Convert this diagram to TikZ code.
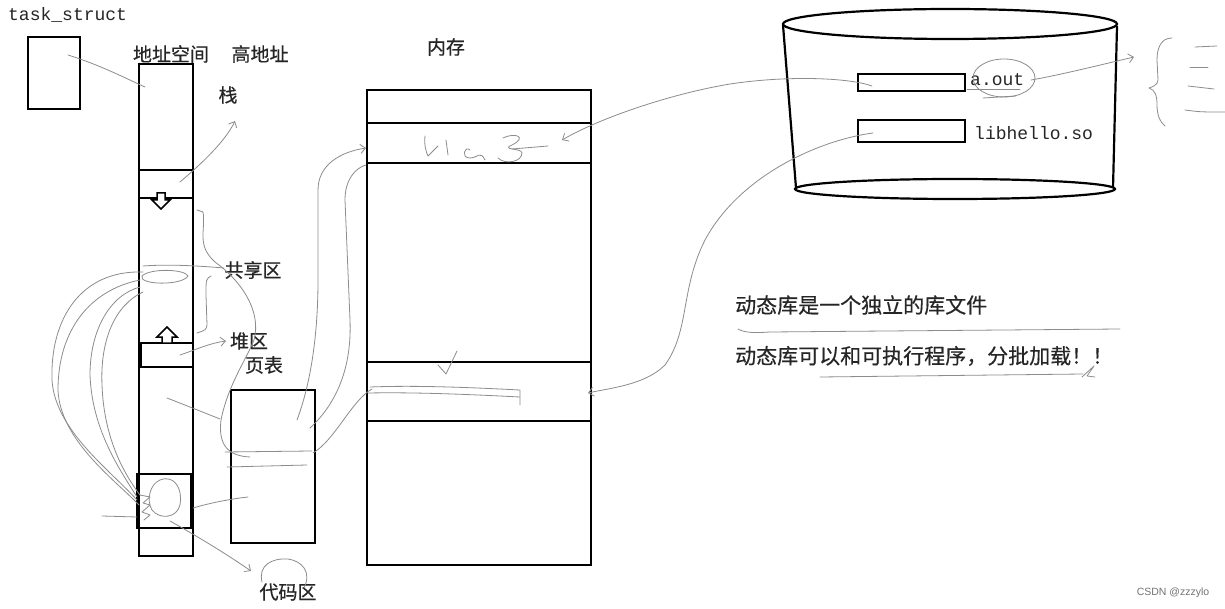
\documentclass[tikz,border=0pt]{standalone}
\usepackage{fontspec}
\newfontfamily\cjk[FakeBold=0.4]{Noto Sans CJK SC}
\newfontfamily\monof{Liberation Mono}
\usetikzlibrary{arrows.meta}
\tikzset{
 box/.style={draw=black, line width=2.2pt, inner sep=0pt, fill=none},
 hand/.style={draw=black!45, line width=0.8pt, line cap=round, line join=round},
 harrow/.style={hand, -{Straight Barb[length=5pt,width=9pt]}},
 zh/.style={font=\cjk\fontsize{19}{22}\selectfont, inner sep=0pt, text=black!85},
 zhb/.style={font=\cjk\fontsize{21}{24}\selectfont, inner sep=0pt, text=black!85},
 code/.style={font=\monof\fontsize{18}{20}\selectfont, inner sep=0pt, text=black!85},
 hollow/.style={draw=black, line width=1.5pt, fill=white, line join=miter},
}
\begin{document}
\begin{tikzpicture}[x=1pt,y=-1pt]
\path[use as bounding box, fill=white] (0,0) rectangle (1225,609);

% ---------- boxes ----------
\node[box, minimum width=52, minimum height=72] (task) at (54,73) {};
\node[box, minimum width=54, minimum height=492] (col) at (166,310) {};
\node[box, minimum width=54, minimum height=28] (stack) at (166,184) {};
\node[box, minimum width=54, minimum height=24] (heap) at (166,355) {};
\node[box, minimum width=54, minimum height=54] (codebox) at (164,501) {};
\node[box, minimum width=84, minimum height=153] (pt) at (273,466.5) {};
\node[box, minimum width=224, minimum height=475] (mem) at (479,327.5) {};
\node[box, minimum width=224, minimum height=40] (libc) at (479,143) {};
\node[box, minimum width=224, minimum height=59] (band) at (479,391.5) {};
\node[box, minimum width=107, minimum height=17] (aout) at (911.5,82.5) {};
\node[box, minimum width=107, minimum height=22] (lib) at (911.5,131) {};
\draw[black, line width=3.2pt] (140,343) -- (140,367);

% ---------- disk cylinder ----------
\draw[box] (950,24) ellipse [x radius=167, y radius=15];
\draw[box] (783,25) -- (796,188);
\draw[box] (1117,26) -- (1113,188);
\draw[box] (955,189) ellipse [x radius=160, y radius=10];

% ---------- hollow arrows ----------
\draw[hollow] (157,193) -- (165,193) -- (165,200) -- (170,200) -- (161,209) -- (152,200) -- (157,200) -- cycle;
\draw[hollow] (167,327) -- (177,337) -- (172,337) -- (172,343) -- (162,343) -- (162,337) -- (157,337) -- cycle;

% ---------- texts ----------
\node[code, anchor=west] (tasklbl) at (8,15) {task\_struct};
\node[zh] (addr) at (171,54) {地址空间};
\node[zh] (high) at (260,54) {高地址};
\node[zh] (zhan) at (228,95) {栈};
\node[zh] (share) at (253,270) {共享区};
\node[zh] (heaplbl) at (249,341) {堆区};
\node[zh] (ptlbl) at (264,365) {页表};
\node[zh] (codelbl) at (288,592) {代码区};
\node[zh] (memlbl) at (446,47) {内存};
\node[code, anchor=west] (aoutlbl) at (970,80) {a.out};
\node[code, anchor=west] (liblbl) at (974,133) {libhello.so};
\node[zhb, anchor=west] (line1) at (735,305) {动态库是一个独立的库文件};
\node[zhb, anchor=west] (line2) at (735,356) {动态库可以和可执行程序，分批加载！！};
\node[font=\fontspec{Liberation Sans}\fontsize{10.5}{12}\selectfont, text=black!55, inner sep=0pt] (wm) at (1173,593) {CSDN @zzzylo};

% ---------- named ends ----------
\coordinate (t1) at (68,55);
\coordinate (c1) at (145,87);
\coordinate (s1) at (180,182);
\coordinate (s2) at (235,121);
\coordinate (h1) at (180,355);
\coordinate (h2) at (226,341);
\coordinate (cb1) at (170,521);
\coordinate (cb2) at (251,571);
\coordinate (pa1) at (297,420);
\coordinate (pa2) at (366,148);
\coordinate (pb1) at (310,428);
\coordinate (pb2) at (366,165);
\coordinate (pc1) at (313,453);
\coordinate (pc2) at (372,389);
\coordinate (ao1) at (872,86);
\coordinate (ao2) at (562,140);
\coordinate (lb1) at (873,133);
\coordinate (lb2) at (588,393);
\coordinate (ax1) at (1031,80);
\coordinate (ax2) at (1134,57);

% ---------- hand-drawn connectors ----------
\draw[hand] (t1) .. controls (100,65) and (125,78) .. (c1);
\draw[harrow] (s1) .. controls (200,165) and (225,142) .. (s2);
\draw[harrow] (h1) .. controls (195,350) and (210,343) .. (h2);
\draw[harrow] (cb1) .. controls (195,535) and (225,553) .. (cb2);
% long curve from shared area down to page table
\draw[hand] (197,210) -- (203,212) .. controls (206,230) and (196,245) .. (215,262)
  .. controls (240,280) and (262,310) .. (254,340)
  .. controls (246,360) and (228,385) .. (221,420)
  .. controls (218,445) and (228,456) .. (250,457);
% bracket near shared area
\draw[hand] (211,276) .. controls (206,279) .. (206,295) -- (207,325) .. controls (206,330) .. (197,333);
% shared area loop
\draw[hand] (143,266) .. controls (170,264) and (200,266) .. (224,268);
\draw[hand] (188,276) .. controls (185,269) and (150,268) .. (142,276) .. controls (138,285) and (182,286) .. (188,276);
% loops from shared area to code area
\draw[hand] (143,272) .. controls (80,270) and (50,320) .. (52,380) .. controls (55,430) and (110,470) .. (137,500);
\draw[hand] (140,280) .. controls (90,290) and (58,330) .. (58,390) .. controls (60,440) and (115,480) .. (139,505);
\draw[hand] (140,287) .. controls (110,295) and (90,330) .. (90,375) .. controls (92,430) and (120,470) .. (137,497);
\draw[hand] (143,292) .. controls (115,305) and (100,340) .. (102,385) .. controls (104,440) and (125,475) .. (140,495);
% column to page table
\draw[hand] (167,398) .. controls (185,405) and (205,413) .. (220,419);
\draw[hand] (193,508) .. controls (210,503) and (230,499) .. (248,497);
\draw[hand] (225,452) -- (312,451);
\draw[hand] (227,467) -- (307,465);
% code box scribbles
\draw[hand] (102,516) -- (137,517);
\draw[hand] (160,480) .. controls (175,474) and (183,490) .. (180,505) .. controls (177,518) and (160,520) .. (152,510) .. controls (146,500) and (150,484) .. (160,480);
\draw[hand] (140,495) -- (150,497) -- (143,503) -- (150,505) -- (142,512) -- (150,515) -- (144,520);
% circle around code label
\draw[hand] (262,582) .. controls (258,565) and (272,558) .. (288,559) .. controls (302,561) and (312,572) .. (304,588);
% page table to memory
\draw[harrow] (pa1) .. controls (312,380) and (318,330) .. (318,280) -- (318,190) .. controls (318,165) and (340,152) .. (pa2);
\draw[hand] (pb1) .. controls (335,405) and (352,370) .. (350,320) -- (345,200) .. controls (345,180) and (355,168) .. (pb2);
\draw[hand] (pc1) .. controls (335,440) and (352,400) .. (pc2);
% memory band scribbles
\draw[hand] (370,387) .. controls (420,385) and (480,388) .. (520,390) -- (520,405);
\draw[hand] (368,393) .. controls (420,392) and (480,395) .. (520,397);
\draw[hand] (438,365) -- (446,374) -- (457,351);
% handwriting in libc band
\draw[hand] (425,136) .. controls (424,145) and (426,152) .. (428,156) .. controls (432,152) and (436,148) .. (438,146);
\draw[hand] (446,140) -- (448,155);
\draw[hand] (470,150) .. controls (465,145) and (460,158) .. (470,158) .. controls (478,158) and (480,150) .. (485,160);
\draw[hand] (503,138) .. controls (515,132) and (528,137) .. (512,145) .. controls (500,150) and (522,148) .. (522,153) .. controls (522,162) and (505,165) .. (498,158);
\draw[hand] (512,149) -- (548,146);
% disk to memory
\draw[harrow] (ao1) .. controls (850,78) and (790,75) .. (730,84) .. controls (670,94) and (600,118) .. (ao2);
\draw[harrow] (lb1) .. controls (820,140) and (740,175) .. (705,240) .. controls (680,290) and (690,330) .. (665,365) .. controls (645,385) and (610,388) .. (lb2);
% a.out markings
\draw[hand] (1004,78) ellipse [x radius=31, y radius=19];
\draw[hand] (967,89) -- (1020,89);
\draw[hand] (983,98) -- (1016,96);
\draw[harrow] (ax1) .. controls (1060,75) and (1100,65) .. (ax2);
% brace and dashes
\draw[hand] (1172,38) .. controls (1161,38) and (1157,48) .. (1157,60) -- (1158,80) .. controls (1158,85) and (1152,87) .. (1149,88) .. controls (1155,90) and (1157,95) .. (1157,105) .. controls (1157,115) and (1160,122) .. (1165,126);
\draw[hand] (1195,47) -- (1217,46);
\draw[hand] (1190,67) -- (1208,67);
\draw[hand] (1188,86) -- (1214,89);
\draw[hand] (1185,110) .. controls (1200,112) .. (1225,112);
% text underlines
\draw[hand] (738,329) .. controls (745,333) and (755,333) .. (770,332) -- (1120,329);
\draw[hand] (820,377) -- (1083,374);
\draw[hand] (1082,377) -- (1094,366) -- (1087,376) -- (1095,377);
\end{tikzpicture}
\end{document}
